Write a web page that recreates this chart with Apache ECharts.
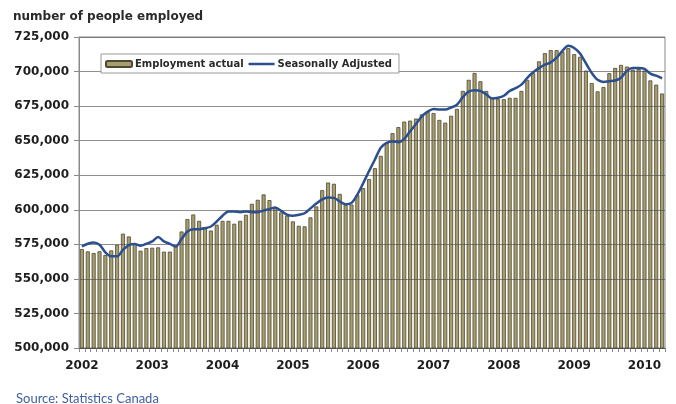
<!DOCTYPE html>
<html>
<head>
<meta charset="utf-8">
<script src="https://cdn.jsdelivr.net/npm/echarts@6/dist/echarts.min.js"></script>
<style>
  html, body { margin: 0; padding: 0; background: #fff; }
  #chart { width: 676px; height: 404px; }
</style>
</head>
<body>
<div id="chart"></div>
<script>
// Monthly employment, January 2002 to April 2010
const years = ['2002', '2003', '2004', '2005', '2006', '2007', '2008', '2009', '2010'];
const monthsInLastYear = 4;

const employmentActual = [
  571600, 569900, 568700, 570000, 567300, 570600, 574700, 582700, 580700, 575200, 570400, 572300,
  572500, 572800, 569700, 569700, 573500, 584300, 593300, 596600, 592000, 587500, 585000, 589200,
  592000, 592000, 589900, 592000, 596400, 604300, 607200, 611100, 607000, 601500, 598100, 595700,
  591600, 588400, 588000, 594500, 602400, 614200, 619700, 618800, 611500, 603600, 603800, 610800,
  615700, 622200, 630100, 639000, 648600, 655400, 659800, 663800, 664500, 666000, 669000, 671000,
  670000, 665000, 663000, 668000, 673000, 686000, 694000, 699000, 693000, 686000, 681000, 680000,
  680000, 681000, 681000, 686000, 694000, 698800, 707400, 713300, 715500, 715500, 714500, 716900,
  712600, 710700, 700700, 691700, 685700, 688800, 698800, 702600, 704800, 703600, 701400, 701900,
  700700, 693600, 690500, 684100
];

const seasonallyAdjusted = [
  573500, 575400, 576400, 574700, 569200, 566300, 566300, 571000, 574500, 575200, 574000, 575400,
  577100, 580300, 577100, 575400, 573500, 578800, 584300, 586000, 586000, 586700, 587900, 591500,
  595700, 598800, 598800, 598300, 598800, 598300, 598300, 599500, 600500, 601700, 599200, 596400,
  595700, 596400, 597500, 601000, 604500, 607500, 608800, 608600, 606000, 604000, 605000, 611000,
  619300, 628000, 636400, 644900, 648400, 649400, 648900, 651300, 656800, 662000, 667500, 671000,
  673000, 672500, 672500, 674000, 676000, 681500, 685500, 686500, 686000, 683500, 680500, 681000,
  682500, 686000, 688000, 690500, 695500, 699500, 702500, 705000, 706600, 710000, 715000, 718600,
  717000, 713000, 706000, 699000, 694000, 692500, 693000, 693500, 695500, 700500, 702500, 702500,
  702000, 698500, 697000, 695000
];

// One category per month; the year is shown under each January
const months = [];
years.forEach((y, k) => {
  const n = (k === years.length - 1) ? monthsInLastYear : 12;
  for (let m = 1; m <= n; m++) months.push(y + '-' + String(m).padStart(2, '0'));
});

const labelFont = 'DejaVu Sans';
const lineColor = '#2c4f8e';
const chart = echarts.init(document.getElementById('chart'));

chart.setOption({
  animation: false,
  backgroundColor: '#ffffff',
  title: [
    {
      text: 'number of people employed',
      left: 8, top: 6,
      textStyle: { fontFamily: labelFont, fontSize: 12, fontWeight: 'bold', color: '#2a2a2a' }
    },
    {
      text: 'Source: Statistics Canada',
      left: 11, top: 387,
      textStyle: { fontFamily: 'Lato', fontSize: 13, fontWeight: 'normal', color: '#3f5f9e' }
    }
  ],
  legend: {
    left: 101, top: 54,
    z: 10,
    padding: [5, 7, 4, 4],
    itemGap: 5,
    itemWidth: 26,
    itemHeight: 6,
    symbolKeepAspect: true,
    backgroundColor: '#ffffff',
    borderColor: '#9a9a9a',
    borderWidth: 1,
    textStyle: { fontFamily: labelFont, fontSize: 10, fontWeight: 'bold', color: '#2a2a2a', padding: [0, 0, 0, -2] },
    data: [
      { name: 'Employment actual' },
      { name: 'Seasonally Adjusted', icon: 'path://M0,0 L26,0 L26,2.5 L0,2.5 Z', itemStyle: { color: lineColor, borderWidth: 0 } }
    ]
  },
  grid: {
    left: 79, right: 11, top: 37, bottom: 56,
    show: true,
    borderColor: '#8a8a8a',
    borderWidth: 1
  },
  xAxis: {
    type: 'category',
    data: months,
    boundaryGap: true,
    axisLine: { lineStyle: { color: '#6a6a6a', width: 1 } },
    axisTick: { show: true, interval: 0, length: 4, lineStyle: { color: '#8a8a8a' } },
    axisLabel: {
      interval: (idx, val) => val.endsWith('-01'),
      formatter: (val) => val.slice(0, 4),
      fontFamily: labelFont, fontSize: 12, fontWeight: 'bold', color: '#1e1e1e',
      margin: 12
    },
    splitLine: { show: false }
  },
  yAxis: {
    type: 'value',
    min: 500000, max: 725000, interval: 25000,
    z: 3,
    axisLine: { show: true, lineStyle: { color: '#8a8a8a', width: 1 } },
    axisTick: { show: true, length: 5, lineStyle: { color: '#8a8a8a' } },
    axisLabel: {
      formatter: (v) => v.toLocaleString('en-US'),
      fontFamily: labelFont, fontSize: 12, fontWeight: 'bold', color: '#1e1e1e',
      margin: 10
    },
    splitLine: { show: true, lineStyle: { color: 'rgba(70,70,70,0.6)', width: 1 } }
  },
  series: [
    {
      name: 'Employment actual',
      type: 'bar',
      data: employmentActual,
      barWidth: 4,
      itemStyle: { color: '#a89f6e', borderColor: '#4f4832', borderWidth: 0.8 }
    },
    {
      name: 'Seasonally Adjusted',
      type: 'line',
      data: seasonallyAdjusted,
      z: 5,
      smooth: 0.3,
      symbol: 'none',
      lineStyle: { color: lineColor, width: 2.5 },
      itemStyle: { color: lineColor }
    }
  ]
});
</script>
</body>
</html>
